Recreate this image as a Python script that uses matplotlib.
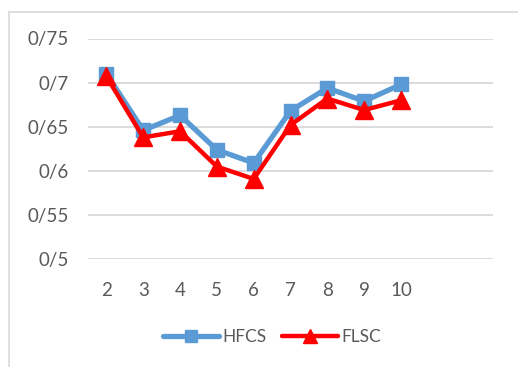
import matplotlib
matplotlib.use("Agg")
import matplotlib.pyplot as plt
from matplotlib.patches import Rectangle

plt.rcParams['font.family'] = ['Lato', 'DejaVu Sans']

categories = ["2", "3", "4", "5", "6", "7", "8", "9", "10"]
hfcs = [0.710, 0.646, 0.663, 0.624, 0.609, 0.668, 0.694, 0.679, 0.698]
flsc = [0.707, 0.638, 0.645, 0.605, 0.591, 0.652, 0.682, 0.669, 0.680]
y_ticks = [0.5, 0.55, 0.6, 0.65, 0.7, 0.75]
y_labels = ["0/5", "0/55", "0/6", "0/65", "0/7", "0/75"]
n_slots = 11

W, H = 518, 367
fig = plt.figure(figsize=(W / 100, H / 100), dpi=100)
fig.patch.set_facecolor("white")

# outer chart frame (left and top edges visible)
fig.patches.append(Rectangle((9 / W, -0.1), 1.2, 1 - 12 / H + 0.1,
                             transform=fig.transFigure, fill=False,
                             edgecolor="#d9d9d9", linewidth=1.2))

ax = fig.add_axes([88 / W, 1 - 259.3 / H, (493 - 88) / W, (259.3 - 38.5) / H])
x = list(range(len(categories)))

ax.plot(x, hfcs, color="#5b9bd5", linewidth=3.8, marker="s", markersize=10,
        solid_capstyle="round", label="HFCS", zorder=3)
ax.plot(x, flsc, color="#ff0000", linewidth=3.2, marker="^", markersize=13,
        solid_capstyle="round", label="FLSC", zorder=4)

ax.set_xlim(-0.5, n_slots - 0.5)
ax.set_ylim(0.5, 0.75)
ax.set_yticks(y_ticks)
ax.set_yticklabels(y_labels)
ax.set_xticks(x)
ax.set_xticklabels(categories)
ax.grid(axis="y", color="#d9d9d9", linewidth=1.3)
ax.set_axisbelow(True)
for s in ax.spines.values():
    s.set_visible(False)
ax.tick_params(length=0, labelsize=13.5, colors="#595959")
ax.tick_params(axis="y", pad=14)
ax.tick_params(axis="x", pad=16)

leg = ax.legend(loc="upper center", bbox_to_anchor=(0.455, -0.245), ncol=2,
                frameon=False, fontsize=12.5, handlelength=3.2,
                columnspacing=0.9, handletextpad=0.2, markerscale=0.8)
for t in leg.get_texts():
    t.set_color("#595959")

fig.savefig("out.png", dpi=100, facecolor="white")
